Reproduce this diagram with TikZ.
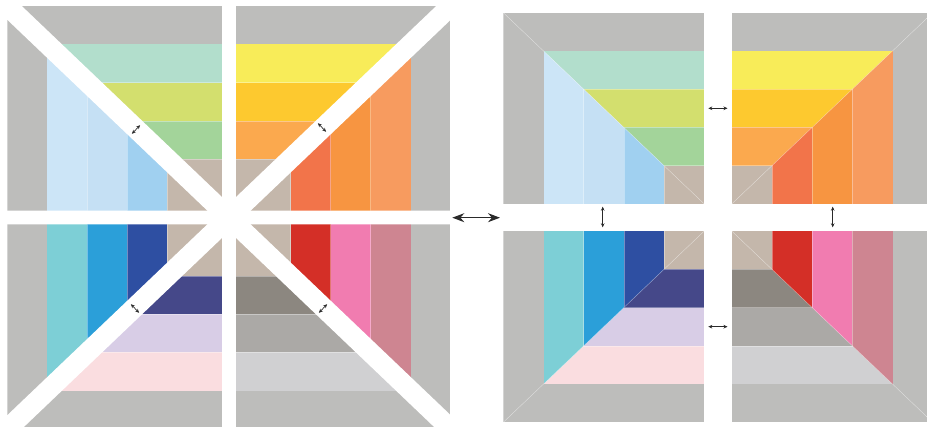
\documentclass[tikz,border=0pt]{standalone}
\usetikzlibrary{arrows.meta}
\definecolor{frame}{HTML}{BDBDBB}
\definecolor{beige}{HTML}{C4B7AB}
\definecolor{mint}{HTML}{B2DECC}
\definecolor{ygreen}{HTML}{D3DF6E}
\definecolor{lgreen}{HTML}{A3D49A}
\definecolor{lbA}{HTML}{CCE5F7}
\definecolor{lbB}{HTML}{C5E0F4}
\definecolor{lbC}{HTML}{A0D0F0}
\definecolor{yel}{HTML}{F8EC59}
\definecolor{gold}{HTML}{FDC92F}
\definecolor{lorange}{HTML}{FBA94E}
\definecolor{salmon}{HTML}{F79B5F}
\definecolor{orng}{HTML}{F79541}
\definecolor{redor}{HTML}{F2744A}
\definecolor{pinkl}{HTML}{FADDE0}
\definecolor{laven}{HTML}{D8CDE6}
\definecolor{dpurp}{HTML}{454889}
\definecolor{cyanl}{HTML}{7DCFD6}
\definecolor{bluem}{HTML}{2B9FD9}
\definecolor{blued}{HTML}{2E4FA2}
\definecolor{greyl}{HTML}{D0D0D2}
\definecolor{greym}{HTML}{ABA9A6}
\definecolor{greyd}{HTML}{8C8780}
\definecolor{rose}{HTML}{CE8591}
\definecolor{pinkm}{HTML}{F17CB0}
\definecolor{redd}{HTML}{D42F27}
\definecolor{arrowc}{HTML}{2A2A2A}
\tikzset{
  sep/.style={white, opacity=0.35, line width=0.5},
  bigarrow/.style={arrowc, line width=1.3, {Stealth[length=12,width=9]}-{Stealth[length=12,width=9]}},
  smallarrow/.style={arrowc, line width=0.7, {Stealth[length=4,width=3.6]}-{Stealth[length=4,width=3.6]}},
}
% #1 ox, #2 oy, #3 cw, #4 ch, #5 ix, #6 iy
\newcommand{\drawquad}[6]{%
  \begin{scope}
    \clip (#1,#2) -- (#5,#2) -- (#5,#6) -- cycle;
    \fill[frame] (#1,#2) rectangle (#5,{#2+#4});
    \fill[rA] (#1,{#2+#4}) rectangle (#5,{#2+2*#4});
    \fill[rB] (#1,{#2+2*#4}) rectangle (#5,{#2+3*#4});
    \fill[rC] (#1,{#2+3*#4}) rectangle (#5,{#2+4*#4});
    \fill[beige] (#1,{#2+4*#4}) rectangle (#5,#6);
    \foreach \k in {2,3,4} \draw[sep] (#1,{#2+\k*#4}) -- (#5,{#2+\k*#4});
  \end{scope}
  \begin{scope}
    \clip (#1,#2) -- (#1,#6) -- (#5,#6) -- cycle;
    \fill[frame] (#1,#2) rectangle ({#1+#3},#6);
    \fill[cA] ({#1+#3},#2) rectangle ({#1+2*#3},#6);
    \fill[cB] ({#1+2*#3},#2) rectangle ({#1+3*#3},#6);
    \fill[cC] ({#1+3*#3},#2) rectangle ({#1+4*#3},#6);
    \fill[beige] ({#1+4*#3},#2) rectangle (#5,#6);
    \foreach \k in {2,3,4} \draw[sep] ({#1+\k*#3},#2) -- ({#1+\k*#3},#6);
  \end{scope}
  \draw[sep] (#1,#2) -- (#5,#6);
}
\newcommand{\setTL}{\colorlet{rA}{mint}\colorlet{rB}{ygreen}\colorlet{rC}{lgreen}\colorlet{cA}{lbA}\colorlet{cB}{lbB}\colorlet{cC}{lbC}}
\newcommand{\setTR}{\colorlet{rA}{yel}\colorlet{rB}{gold}\colorlet{rC}{lorange}\colorlet{cA}{salmon}\colorlet{cB}{orng}\colorlet{cC}{redor}}
\newcommand{\setBL}{\colorlet{rA}{pinkl}\colorlet{rB}{laven}\colorlet{rC}{dpurp}\colorlet{cA}{cyanl}\colorlet{cB}{bluem}\colorlet{cC}{blued}}
\newcommand{\setBR}{\colorlet{rA}{greyl}\colorlet{rB}{greym}\colorlet{rC}{greyd}\colorlet{cA}{rose}\colorlet{cB}{pinkm}\colorlet{cC}{redd}}
\begin{document}
\begin{tikzpicture}[x=1pt,y=-1pt]
\useasboundingbox (0,0) rectangle (927,427);
\clip (0,0) rectangle (927,427);
% ---------- left figure ----------
\begin{scope}[shift={(229,217.5)}]
  \begin{scope}\setTL\drawquad{-221.7}{-211.5}{40}{38.3}{-7}{-6.8}\end{scope}
  \begin{scope}[xscale=-1]\setTR\drawquad{-221.7}{-211.5}{40}{38.3}{-7}{-6.8}\end{scope}
  \begin{scope}[yscale=-1]\setBL\drawquad{-221.7}{-211.5}{40}{38.3}{-7}{-6.8}\end{scope}
  \begin{scope}[xscale=-1,yscale=-1]\setBR\drawquad{-221.7}{-211.5}{40}{38.3}{-7}{-6.8}\end{scope}
  \coordinate (sTLa) at (-250,-238.5); \coordinate (sBRa) at (250,238.5);
  \coordinate (sBLa) at (-250,238.5);  \coordinate (sTRa) at (250,-238.5);
  \draw[white, line width=20] (sTLa) -- (sBRa);
  \draw[white, line width=20] (sBLa) -- (sTRa);
  \coordinate (aTL1) at (-97.1,-83.7); \coordinate (aTL2) at (-88.9,-92.3);
  \coordinate (aTR1) at (88.9,-94.3);  \coordinate (aTR2) at (97.1,-85.7);
  \coordinate (aBL1) at (-98.1,86.7);  \coordinate (aBL2) at (-89.9,95.3);
  \coordinate (aBR1) at (89.9,95.3);   \coordinate (aBR2) at (98.1,86.7);
  \draw[smallarrow] (aTL1) -- (aTL2);
  \draw[smallarrow] (aTR1) -- (aTR2);
  \draw[smallarrow] (aBL1) -- (aBL2);
  \draw[smallarrow] (aBR1) -- (aBR2);
\end{scope}
% ---------- big arrow ----------
\coordinate (leftfig) at (452.3,217.7);
\coordinate (rightfig) at (500,217.7);
\draw[bigarrow] (leftfig) -- (rightfig);
% ---------- right figure ----------
\begin{scope}[shift={(718,217.5)}]
  \begin{scope}\setTL\drawquad{-214.7}{-204.8}{40.2}{38.26}{-13.7}{-13.5}\end{scope}
  \begin{scope}[xscale=-1]\setTR\drawquad{-214.7}{-204.8}{40.2}{38.26}{-13.7}{-13.5}\end{scope}
  \begin{scope}[yscale=-1]\setBL\drawquad{-214.7}{-204.8}{40.2}{38.26}{-13.7}{-13.5}\end{scope}
  \begin{scope}[xscale=-1,yscale=-1]\setBR\drawquad{-214.7}{-204.8}{40.2}{38.26}{-13.7}{-13.5}\end{scope}
  \coordinate (hT1) at (-9.7,-109.2); \coordinate (hT2) at (9.5,-109.2);
  \coordinate (hB1) at (-9.7,109.2);  \coordinate (hB2) at (9.5,109.2);
  \coordinate (vL1) at (-115.3,-10.8); \coordinate (vL2) at (-115.3,9.8);
  \coordinate (vR1) at (114.7,-10.8);  \coordinate (vR2) at (114.7,9.8);
  \draw[smallarrow] (hT1) -- (hT2);
  \draw[smallarrow] (hB1) -- (hB2);
  \draw[smallarrow] (vL1) -- (vL2);
  \draw[smallarrow] (vR1) -- (vR2);
\end{scope}
\end{tikzpicture}
\end{document}
